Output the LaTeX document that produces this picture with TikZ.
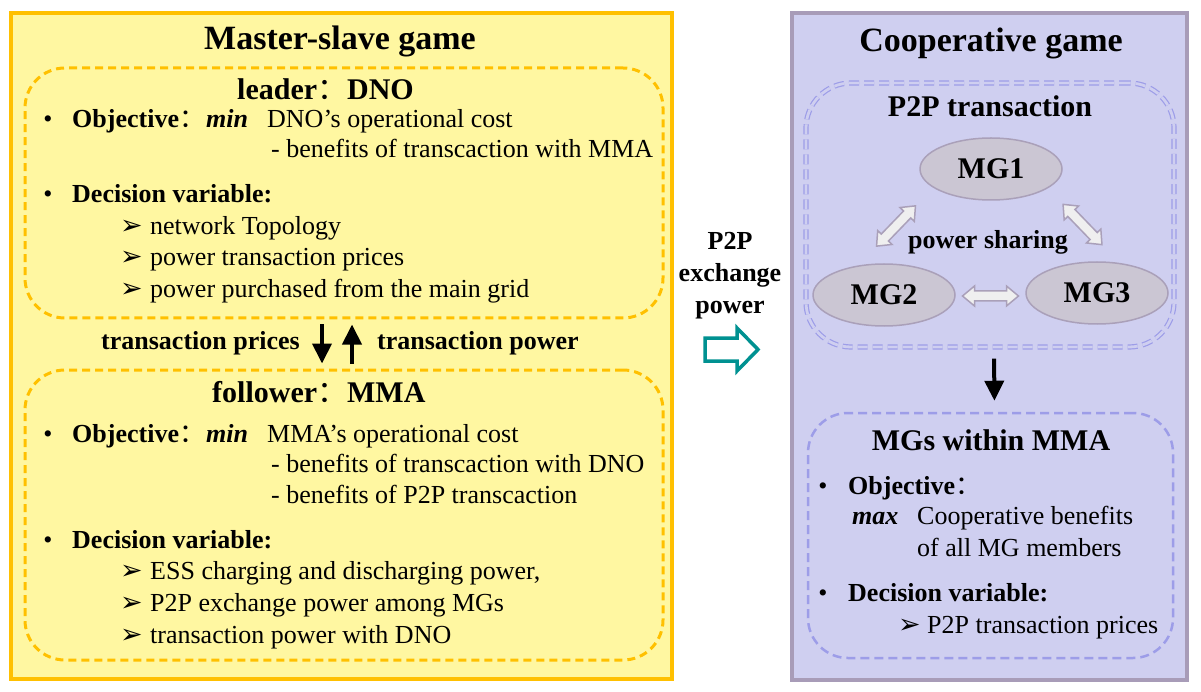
\documentclass[tikz,border=0pt]{standalone}
\usepackage{fontspec}
\setmainfont{Liberation Serif}
\newfontfamily\dv{DejaVu Sans}
\newfontfamily\cjk{Noto Sans CJK SC}
\newcommand{\fwc}{{\cjk\mdseries ：}}
\usetikzlibrary{arrows.meta,shapes.geometric,calc}
\definecolor{yfill}{HTML}{FFF7A1}
\definecolor{yline}{HTML}{FFC000}
\definecolor{lfill}{HTML}{CFCFF0}
\definecolor{lline}{HTML}{A89CB8}
\definecolor{ldash}{HTML}{9D9DE8}
\definecolor{efill}{HTML}{CBC6D3}
\definecolor{eline}{HTML}{AAA0B9}
\definecolor{afill}{HTML}{EFEFEF}
\definecolor{teal1}{HTML}{009191}
\begin{document}
\begin{tikzpicture}[x=1pt,y=-1pt,
  body/.style={anchor=base west, inner sep=0, font=\fontsize{26}{31}\selectfont},
  bbody/.style={anchor=base west, inner sep=0, font=\fontsize{26}{31}\selectfont\bfseries},
  hdr/.style={anchor=base west, inner sep=0, font=\fontsize{30}{36}\selectfont\bfseries},
  ttl/.style={anchor=base, inner sep=0, font=\fontsize{34}{40}\selectfont\bfseries},
  bul/.style={anchor=base, inner sep=0, font=\fontsize{26}{31}\selectfont},
  arw/.style={anchor=base west, inner sep=0, font=\dv\fontsize{27}{30}\selectfont},
  ybox/.style={draw=yline, line width=3pt, dash pattern=on 8pt off 5pt, rounded corners=40pt, inner sep=0},
  lbox/.style={draw=ldash, line width=2.5pt, dash pattern=on 9pt off 5pt, rounded corners=40pt, inner sep=0},
  mg/.style={ellipse, draw=eline, line width=1.5pt, fill=efill, minimum width=142pt, minimum height=62pt, inner sep=0, font=\fontsize{30}{36}\selectfont\bfseries},
  blk/.style={line width=4pt, -{Triangle[length=20pt,width=19pt]}},
  darrow/.style={draw=eline, line width=1.5pt, fill=afill, line join=miter}
]
\useasboundingbox (0,0) rectangle (1201,692);
% outer boxes
\draw[draw=yline, fill=yfill, line width=4pt] (11,13) rectangle (672,679);
\draw[draw=lline, fill=lfill, line width=4pt] (792,13) rectangle (1187,680);

% ---------- left ----------
\node[ttl] (msg) at (340,50) {Master-slave game};
\node[ybox, minimum width=638pt, minimum height=250pt] (ldr) at (344,193) {};
\node[ybox, minimum width=638pt, minimum height=290pt] (fol) at (344,515) {};

\node[hdr] (leadt) at (237,100) {leader\fwc DNO};
\node[bul] (lb1) at (48,128) {•};
\node[bbody] (lo1) at (72,128) {Objective\fwc};
\node[bbody] (lm1) at (206,128) {\textit{min}};
\node[body] (lc1) at (267,128) {DNO’s operational cost};
\node[body] (lc2) at (271,158) {- benefits of transcaction with MMA};
\node[bul] (lb2) at (48,203) {•};
\node[bbody] (ld1) at (72,203) {Decision variable:};
\node[arw] (la1) at (120,235) {➢};
\node[body] (lv1) at (150,235) {network Topology};
\node[arw] (la2) at (120,266) {➢};
\node[body] (lv2) at (150,266) {power transaction prices};
\node[arw] (la3) at (120,298) {➢};
\node[body] (lv3) at (150,298) {power purchased from the main grid};

\node[bbody, anchor=base east] (tpr) at (300,349) {transaction prices};
\node[bbody] (tpw) at (377,349) {transaction power};
\draw[blk, shorten <=5pt, shorten >=5pt] ([xshift=-22pt]ldr.south) -- ([xshift=-22pt]fol.north);
\draw[blk, shorten <=5pt, shorten >=5pt] ([xshift=8pt]fol.north) -- ([xshift=8pt]ldr.south);

\node[hdr] (follt) at (212,402) {follower\fwc MMA};
\node[bul] (fb1) at (48,442) {•};
\node[bbody] (fo1) at (72,442) {Objective\fwc};
\node[bbody] (fm1) at (206,442) {\textit{min}};
\node[body] (fc1) at (267,442) {MMA’s operational cost};
\node[body] (fc2) at (271,472) {- benefits of transcaction with DNO};
\node[body] (fc3) at (271,503) {- benefits of P2P transcaction};
\node[bul] (fb2) at (48,548) {•};
\node[bbody] (fd1) at (72,548) {Decision variable:};
\node[arw] (fa1) at (120,579) {➢};
\node[body] (fv1) at (150,579) {ESS charging and discharging power,};
\node[arw] (fa2) at (120,611) {➢};
\node[body] (fv2) at (150,611) {P2P exchange power among MGs};
\node[arw] (fa3) at (120,643) {➢};
\node[body] (fv3) at (150,643) {transaction power with DNO};

% ---------- middle ----------
\node[bbody, anchor=base] (mx1) at (730,250) {P2P};
\node[bbody, anchor=base] (mx2) at (730,282) {exchange};
\node[bbody, anchor=base] (mx3) at (730,313) {power};
\draw[teal1, line width=3.5pt, fill=white, line join=miter]
  (705,338) -- (737,338) -- (737,328) -- (758,349.5) -- (737,371) -- (737,361) -- (705,361) -- cycle;

% ---------- right ----------
\node[ttl] (cg) at (991,52) {Cooperative game};
\node[draw=ldash, line width=1.2pt, double=lfill, double distance=2.8pt, dash pattern=on 10pt off 5pt,
      rounded corners=45pt, minimum width=368pt, minimum height=264pt, inner sep=0] (pbox) at (990,215) {};
\node[hdr, anchor=base] (p2pt) at (990,117) {P2P transaction};
\node[mg] (mg1) at (991,169) {MG1};
\node[mg] (mg2) at (884,295) {MG2};
\node[mg] (mg3) at (1097,293) {MG3};
\node[bbody, anchor=base] (ps) at (988,249) {power sharing};
% block double arrows
\foreach \cx/\cy/\ang in {990.5/296/0, 896/226/46, 1082.5/224.5/-46}{
  \begin{scope}[shift={(\cx,\cy)}, rotate=\ang]
    \draw[darrow] (-28,0) -- (-16,10) -- (-16,5) -- (16,5) -- (16,10) -- (28,0)
      -- (16,-10) -- (16,-5) -- (-16,-5) -- (-16,-10) -- cycle;
  \end{scope}
}

\node[lbox, minimum width=365pt, minimum height=245pt] (mbox) at (990.5,535.5) {};
\draw[blk, shorten <=11pt, shorten >=11pt] ([xshift=4pt]pbox.south) -- ([xshift=4pt]mbox.north);
\node[hdr, anchor=base] (mgst) at (991,450) {MGs within MMA};
\node[bul] (rb1) at (823,494) {•};
\node[bbody] (ro1) at (848,494) {Objective\fwc};
\node[bbody] (rm1) at (852,524) {\textit{max}};
\node[body] (rc1) at (917,524) {Cooperative benefits};
\node[body] (rc2) at (917,556) {of all MG members};
\node[bul] (rb2) at (823,601) {•};
\node[bbody] (rd1) at (848,601) {Decision variable:};
\node[arw] (ra1) at (898,633) {➢};
\node[body] (rv1) at (927,633) {P2P transaction prices};
\end{tikzpicture}
\end{document}
